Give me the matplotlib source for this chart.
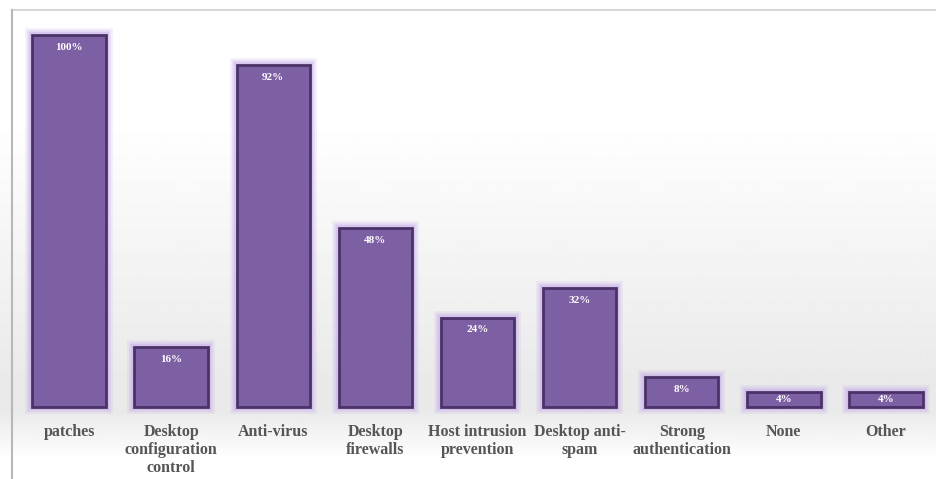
import numpy as np
import matplotlib
matplotlib.use("Agg")
import matplotlib.pyplot as plt

categories = ["patches", "Desktop\nconfiguration\ncontrol", "Anti-virus",
              "Desktop\nfirewalls", "Host intrusion\nprevention", "Desktop anti-\nspam",
              "Strong\nauthentication", "None", "Other"]
values = [100, 16, 92, 48, 24, 32, 8, 4, 4]
value_labels = ["100%", "16%", "92%", "48%", "24%", "32%", "8%", "4%", "4%"]

W, H = 936, 479
fig = plt.figure(figsize=(W / 100, H / 100), dpi=100)

# soft background: white top, light grey band behind the bar bases, white at the bottom
bg = fig.add_axes([0, 0, 1, 1], zorder=0)
rows = np.linspace(0, 1, 479)  # 0 = top
top_fade = np.clip((rows - 0.25) / 0.55, 0, 1)
bottom_fade = np.clip((0.96 - rows) / 0.1, 0, 1)
shade = 1.0 - 0.085 * top_fade * bottom_fade
img = np.repeat(shade[:, None], 10, axis=1)
bg.imshow(img, cmap="gray", vmin=0, vmax=1, aspect="auto", extent=[0, 1, 0, 1],
          origin="upper", interpolation="bilinear")
bg.set_xlim(0, 1)
bg.set_ylim(0, 1)
bg.axis("off")

# frame lines
def px(x, y):
    return x / W, 1 - y / H

fig.add_artist(plt.Line2D([px(12, 0)[0], 1], [px(0, 10)[1]] * 2, color="#d8d8d8", lw=1.5))
fig.add_artist(plt.Line2D([px(12, 0)[0]] * 2, [px(0, 10)[1], 0], color="#b8b8b8", lw=1.5))

left = 18 / W
right = 937 / W
bottom = (H - 407) / H
top = (H - 35) / H
ax = fig.add_axes([left, bottom, right - left, top - bottom], zorder=1)
ax.patch.set_alpha(0)
x = np.arange(len(categories))
bw = 0.72

# lavender glow around each bar
for lw, a in [(10, 0.18), (7, 0.28), (4.5, 0.45)]:
    ax.bar(x, values, width=bw, color="none", edgecolor="#c7aee8", linewidth=lw,
           alpha=a, clip_on=False, zorder=1)
ax.bar(x, values, width=bw, color="#7d5fa3", edgecolor="#4a3268", linewidth=2.0,
       clip_on=False, zorder=2)

for xi, v, lab in zip(x, values, value_labels):
    yv = v - 3.3 if v > 6 else v / 2
    ax.text(xi, yv, lab, ha="center", va="center", color="white",
            fontsize=8, fontweight="bold", family="Liberation Serif", zorder=3)

ax.set_xlim(-0.5, len(categories) - 0.5)
ax.set_ylim(0, 100)
ax.set_xticks(x)
ax.set_xticklabels(categories, family="Liberation Serif", fontsize=11.5,
                   fontweight="bold", color="#555555", linespacing=1.2)
ax.tick_params(axis="x", length=0, pad=12)
ax.set_yticks([])
for s in ax.spines.values():
    s.set_visible(False)

fig.savefig("out.png", dpi=100)
